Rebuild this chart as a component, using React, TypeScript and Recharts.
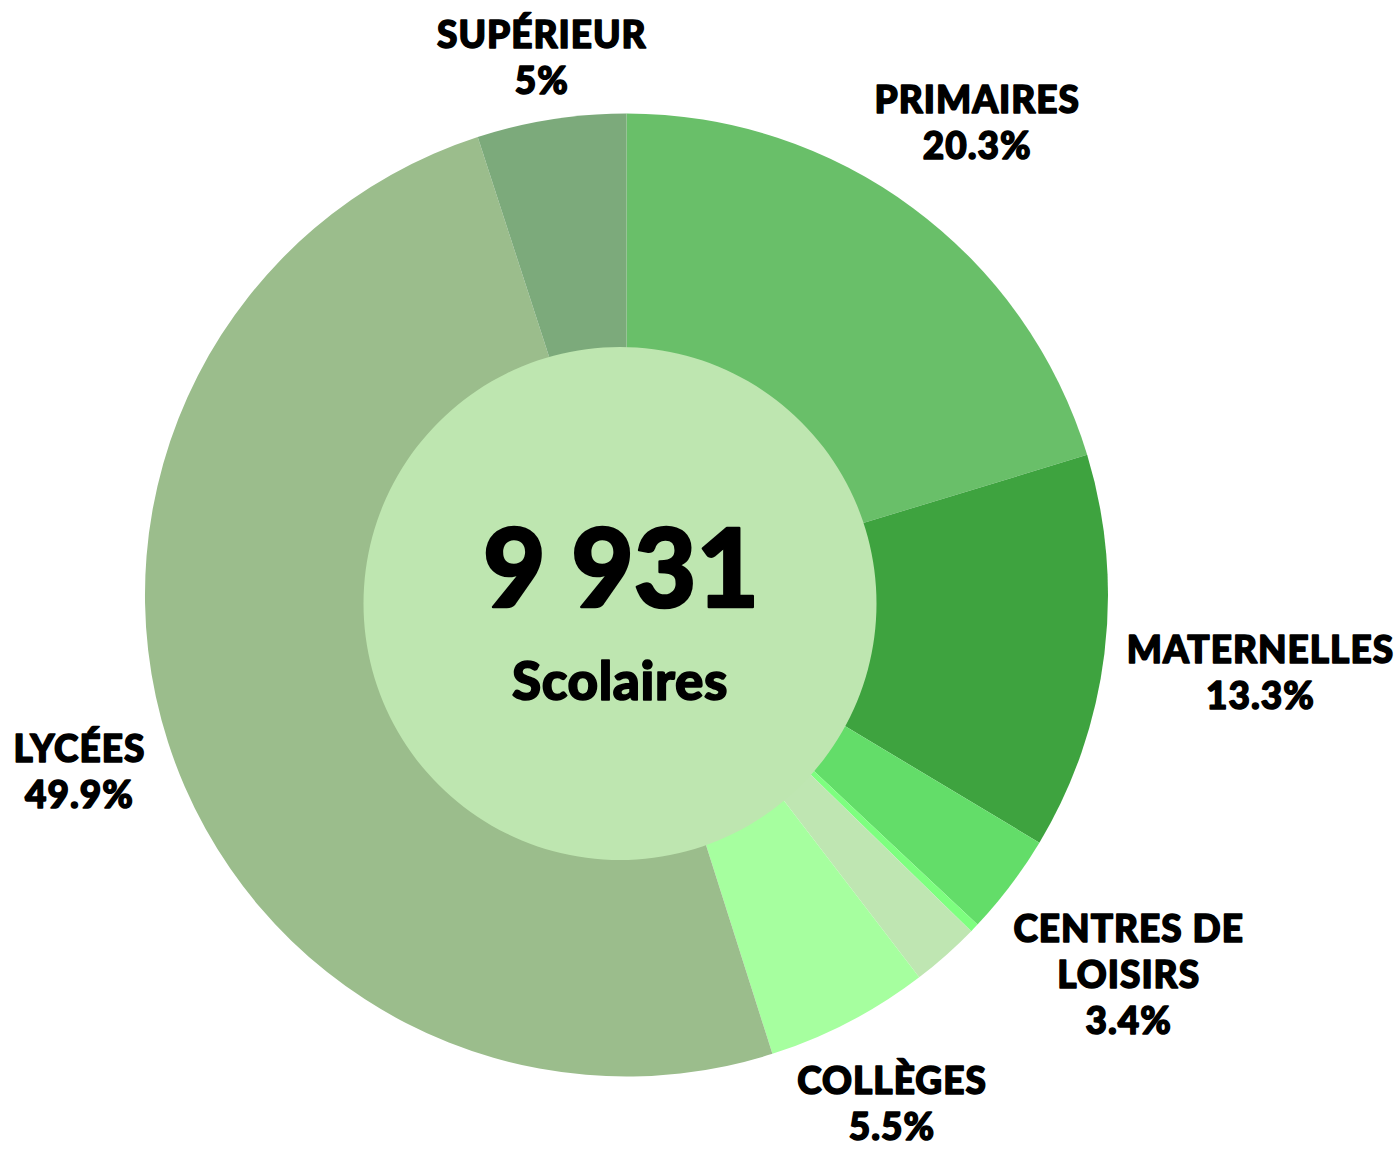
import React from 'react';
import { PieChart, Pie, Cell, Label } from 'recharts';

const categories = ['PRIMAIRES', 'MATERNELLES', 'CENTRES DE\nLOISIRS', 'ACCUEILS', 'AUTRES', 'COLLÈGES', 'LYCÉES', 'SUPÉRIEUR'];
const shares = [20.3, 13.3, 3.4, 0.3, 2.3, 5.5, 49.9, 5];
const colors = ['#69BF69', '#3EA33F', '#63DD69', '#7DFF7F', '#BFE6B2', '#A6FF9F', '#9BBD8C', '#7CAA7B'];
const totalLabel = '9 931';
const centerLabel = 'Scolaires';

const data = categories.map((c, i) => ({ name: c, value: shares[i] }));
const innerData = [{ name: 'total', value: 1 }];

const FONT = 'Lato, "Noto Sans", sans-serif';
const LABEL_SIZE = 37;
const LABEL_STROKE = 1.5;
const LABEL_SPACING = 1.0;
const LINE = 46;
const CAP = 27;

let ctx: CanvasRenderingContext2D | null = null;
function measure(t: string): number {
  if (!ctx) {
    const c = document.createElement('canvas');
    ctx = c.getContext('2d');
  }
  if (!ctx) return t.length * LABEL_SIZE * 0.7;
  ctx.font = `900 ${LABEL_SIZE}px Lato, "Noto Sans", sans-serif`;
  return ctx.measureText(t).width + t.length * LABEL_SPACING;
}

const renderLabel = (props: any) => {
  const { cx, cy, midAngle, outerRadius, index } = props;
  const entry = data[index];
  if (!entry || entry.value < 3) return null;
  const lines = [...entry.name.split('\n'), `${entry.value}%`];
  const w = Math.max(...lines.map(measure));
  const h = (lines.length - 1) * LINE + CAP;
  const rad = (-midAngle * Math.PI) / 180;
  const dx = Math.cos(rad);
  const dy = Math.sin(rad);
  const D = outerRadius + 20;
  const dist = (t: number) => {
    const bx = cx + dx * t;
    const by = cy + dy * t;
    const ex = Math.max(Math.abs(cx - bx) - w / 2, 0);
    const ey = Math.max(Math.abs(cy - by) - h / 2, 0);
    return Math.sqrt(ex * ex + ey * ey);
  };
  let lo = 0;
  let hi = 3000;
  for (let k = 0; k < 60; k++) {
    const m = (lo + hi) / 2;
    if (dist(m) < D) lo = m;
    else hi = m;
  }
  const bx = cx + dx * lo + LABEL_SPACING / 2;
  const by = cy + dy * lo;
  const top = by - h / 2;
  return (
    <text
      key={`lbl-${index}`}
      textAnchor="middle"
      fontFamily={FONT}
      fontWeight={900}
      fontSize={LABEL_SIZE}
      letterSpacing={LABEL_SPACING}
      fill="#000"
      stroke="#000"
      strokeWidth={LABEL_STROKE}
      strokeLinejoin="round"
    >
      {lines.map((l, i) => (
        <tspan key={i} x={bx} y={top + CAP + i * LINE}>
          {l}
        </tspan>
      ))}
    </text>
  );
};

const renderCenter = (props: any) => {
  const vb = props.viewBox || {};
  const cx = vb.cx ?? 620;
  const cy = vb.cy ?? 603.5;
  return (
    <g>
      <text
        x={cx + 1}
        y={cy + 3.5}
        textAnchor="middle"
        fontFamily={FONT}
        fontWeight={900}
        fontSize={108}
        fill="#000"
        stroke="#000"
        strokeWidth={2.5}
        strokeLinejoin="round"
      >
        {totalLabel}
      </text>
      <text
        x={cx}
        y={cy + 96.5}
        textAnchor="middle"
        fontFamily={FONT}
        fontWeight={900}
        fontSize={53}
        letterSpacing={0.6}
        fill="#000"
        stroke="#000"
        strokeWidth={1.6}
        strokeLinejoin="round"
      >
        {centerLabel}
      </text>
    </g>
  );
};

export default function App() {
  return (
    <div style={{ width: 1399, height: 1149, overflow: 'hidden' }}>
      <style>{'body{margin:0}'}</style>
      <PieChart width={1399} height={1149} margin={{ top: 0, right: 0, bottom: 0, left: 0 }}>
        <Pie
          data={data}
          dataKey="value"
          nameKey="name"
          cx={626.5}
          cy={595}
          innerRadius={0}
          outerRadius={481.5}
          startAngle={90}
          endAngle={-270}
          stroke="none"
          labelLine={false}
          label={renderLabel}
          isAnimationActive={false}
        >
          {data.map((d, i) => (
            <Cell key={d.name} fill={colors[i]} stroke="none" />
          ))}
        </Pie>
        <Pie
          data={innerData}
          dataKey="value"
          cx={620}
          cy={603.5}
          innerRadius={0}
          outerRadius={256.5}
          stroke="none"
          fill="#BEE6B0"
          isAnimationActive={false}
        >
          <Cell fill="#BEE6B0" stroke="none" />
          <Label content={renderCenter} position="center" />
        </Pie>
      </PieChart>
    </div>
  );
}
